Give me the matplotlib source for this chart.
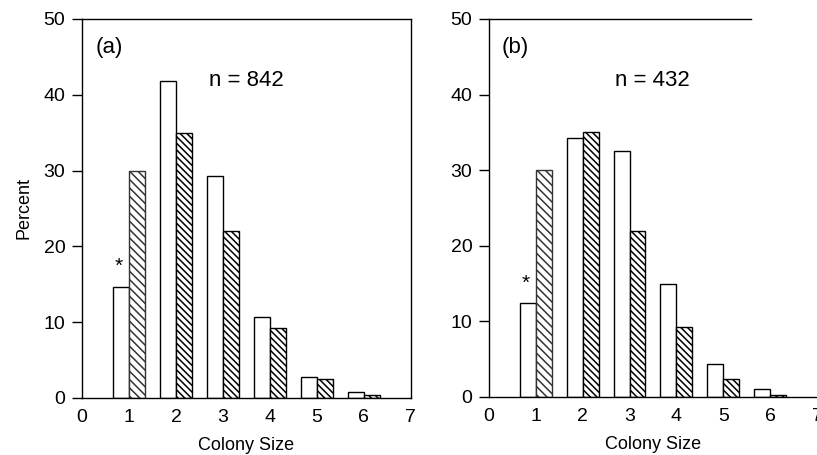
import matplotlib
matplotlib.use("Agg")
import matplotlib.pyplot as plt
import numpy as np

plt.rcParams['font.family'] = ['Liberation Sans', 'DejaVu Sans']
plt.rcParams['hatch.linewidth'] = 1.1

sizes = [1, 2, 3, 4, 5, 6]
a_open = [14.7, 41.8, 29.3, 10.7, 2.8, 0.8]
a_hatch = [30.0, 35.0, 22.0, 9.2, 2.5, 0.4]
b_open = [12.4, 34.3, 32.6, 14.9, 4.4, 1.1]
b_hatch = [30.0, 35.1, 22.0, 9.2, 2.4, 0.3]
x_ticks = [0, 1, 2, 3, 4, 5, 6, 7]
y_ticks = [0, 10, 20, 30, 40, 50]
panels = ["(a)", "(b)"]
n_labels = ["n = 842", "n = 432"]

fig = plt.figure(figsize=(8.17, 4.55), dpi=100)
ax1 = fig.add_axes([0.1004, 0.1253, 0.4024, 0.8330])
ax2 = fig.add_axes([0.5985, 0.1275, 0.4015, 0.8308])

w = 0.34
for i, (ax, op, ht) in enumerate([(ax1, a_open, a_hatch), (ax2, b_open, b_hatch)]):
    x = np.array(sizes, dtype=float)
    ax.bar(x - w / 2, op, width=w, facecolor='white', edgecolor='black', linewidth=1.0)
    bars = ax.bar(x + w / 2, ht, width=w, facecolor='white', edgecolor='black',
                  linewidth=1.0, hatch='\\\\\\\\\\')
    bars[0].set_hatch('\\\\\\\\')
    bars[0].set_edgecolor('#333333')
    ax.set_xlim(0, 7)
    ax.set_ylim(0, 50)
    ax.set_xticks(x_ticks)
    ax.set_yticks(y_ticks)
    ax.tick_params(axis='y', direction='out', length=7, width=1, labelsize=14, pad=5)
    ax.tick_params(axis='x', length=0, labelsize=14, pad=8)
    ax.set_xlabel("Colony Size", fontsize=13, labelpad=8)
    for s in ax.spines.values():
        s.set_linewidth(1.0)
    ax.text(0.28, 46.2, panels[i], fontsize=16, va='center', ha='left')
    ax.text(2.7, 41.9, n_labels[i], fontsize=16, va='center', ha='left')
    ax.text(sizes[0] - w / 2 - 0.05, op[0] + 1.4, "*", fontsize=15, ha='center', va='bottom')

ax1.set_ylabel("Percent", fontsize=13, labelpad=8)
ax2.spines['right'].set_visible(False)
ax2.spines['top'].set_bounds(0, 5.6)

fig.savefig("out.png", dpi=100)
